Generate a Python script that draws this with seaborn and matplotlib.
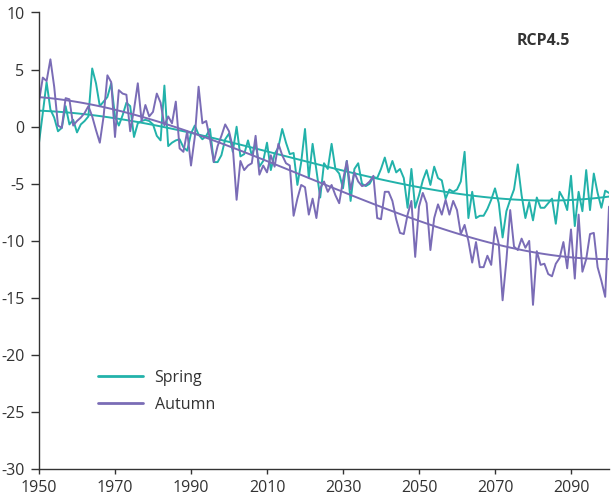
import numpy as np
import pandas as pd
import matplotlib
matplotlib.use("Agg")
import matplotlib.pyplot as plt
import seaborn as sns

years = list(range(1950, 2101))

spring = [
    -1.4, 1.2, 3.9, 1.5, 0.8, -0.4, -0.1, 1.8, 0.2, 0.6,          # 1950s
    -0.5, 0.2, 0.5, 0.9, 5.1, 3.8, 1.8, 2.2, 2.6, 3.8,            # 1960s
    0.9, 0.1, 1.0, 2.1, 1.8, -0.9, 0.3, 0.5, 0.6, 0.5,            # 1970s
    0.2, -0.8, -1.2, 3.6, -1.7, -1.4, -1.2, -1.1, -1.8, -2.1,     # 1980s
    -0.6, 0.1, -0.7, -1.1, -0.8, -0.2, -3.1, -3.1, -2.5, -1.1,    # 1990s
    -0.6, -2.2, 0.0, -2.6, -2.4, -1.2, -2.5, -1.5, -3.5, -3.0,    # 2000s
    -1.4, -3.8, -2.4, -1.8, -0.2, -1.4, -2.4, -2.3, -5.1, -3.1,   # 2010s
    -0.2, -4.5, -1.5, -3.8, -6.2, -3.2, -3.7, -1.5, -3.7, -4.1,   # 2020s
    -5.4, -3.0, -6.5, -3.7, -3.2, -5.0, -5.2, -5.0, -4.4, -4.5,   # 2030s
    -3.7, -2.7, -4.0, -3.0, -4.0, -3.7, -4.5, -7.1, -3.7, -7.1,   # 2040s
    -6.0, -4.7, -3.8, -5.1, -3.5, -4.5, -4.7, -6.3, -5.5, -5.7,   # 2050s
    -5.5, -4.8, -2.2, -8.0, -5.7, -8.0, -7.8, -7.8, -7.2, -6.4,   # 2060s
    -5.4, -6.7, -9.7, -7.4, -6.4, -5.5, -3.3, -6.0, -8.0, -6.6,   # 2070s
    -8.2, -6.2, -7.1, -7.1, -6.7, -6.3, -8.5, -5.7, -6.3, -7.3,   # 2080s
    -4.3, -8.7, -5.7, -7.4, -3.8, -7.3, -4.1, -5.8, -7.1, -5.6,   # 2090s
    -5.8,                                                          # 2100
]

autumn = [
    2.2, 4.3, 4.0, 5.9, 3.5, 0.1, -0.1, 2.5, 2.4, 0.1,            # 1950s
    0.5, 0.8, 1.2, 1.8, 0.9, -0.3, -1.4, 0.9, 4.5, 3.9,           # 1960s
    -0.9, 3.2, 2.9, 2.8, -0.4, 1.5, 3.8, 0.5, 1.9, 0.9,           # 1970s
    1.3, 2.9, 2.1, 0.1, 0.9, 0.3, 2.2, -1.9, -2.2, -0.4,          # 1980s
    -3.4, -0.9, 3.5, 0.3, 0.5, -1.1, -3.1, -1.7, -0.8, 0.2,       # 1990s
    -0.4, -1.8, -6.4, -3.0, -3.8, -3.4, -3.2, -0.8, -4.2, -3.4,   # 2000s
    -4.0, -2.5, -3.5, -1.5, -2.5, -3.2, -3.4, -7.8, -6.3, -5.1,   # 2010s
    -5.3, -7.7, -6.3, -8.0, -5.4, -4.8, -5.7, -5.1, -6.0, -6.7,   # 2020s
    -4.7, -3.0, -5.5, -4.0, -4.8, -5.2, -5.1, -4.8, -4.3, -8.0,   # 2030s
    -8.1, -5.7, -5.7, -6.5, -8.1, -9.3, -9.4, -7.7, -6.5, -11.4,  # 2040s
    -7.0, -5.8, -6.7, -10.8, -8.0, -6.8, -7.7, -6.4, -7.7, -6.5,  # 2050s
    -7.3, -9.4, -8.6, -10.0, -11.9, -10.1, -12.3, -12.3, -11.3, -12.1,  # 2060s
    -8.8, -10.3, -15.2, -11.7, -7.3, -10.5, -10.8, -9.8, -10.6, -10.0,  # 2070s
    -15.6, -10.9, -12.1, -12.0, -12.9, -13.1, -12.0, -11.5, -10.1, -12.4,  # 2080s
    -9.0, -13.3, -7.7, -12.7, -11.6, -9.4, -9.3, -12.3, -13.5, -14.9,  # 2090s
    -7.0,                                                          # 2100
]

series_names = ["Spring", "Autumn"]
x_ticks = list(range(1950, 2091, 20))
y_ticks = list(range(-30, 11, 5))
scenario_label = "RCP4.5"

TEAL = "#22b2aa"
PURPLE = "#7a6cb6"
DARK = "#333333"

sns.set_theme(style="ticks")
plt.rcParams["font.family"] = ["Open Sans", "DejaVu Sans"]
plt.rcParams["axes.unicode_minus"] = False

df = pd.DataFrame({"Year": years, "Spring": spring, "Autumn": autumn})

fig = plt.figure(figsize=(6.11, 4.98), dpi=100)
ax = fig.add_axes([39 / 611, 1 - 469.3 / 498, 570 / 611, (469.3 - 12.5) / 498])

for name, col in zip(series_names, [TEAL, PURPLE]):
    sns.lineplot(data=df, x="Year", y=name, color=col, lw=1.4, ax=ax, label=name)
    sns.regplot(data=df, x="Year", y=name, order=3, scatter=False, ci=None,
                color=col, line_kws={"lw": 1.4}, ax=ax, truncate=True)

ax.set_xlim(1950, 2100)
ax.set_ylim(-30, 10)
ax.set_xticks(x_ticks)
ax.set_yticks(y_ticks)
ax.set_xlabel("")
ax.set_ylabel("")

for s in ["top", "right"]:
    ax.spines[s].set_visible(False)
for s in ["left", "bottom"]:
    ax.spines[s].set_color(DARK)
    ax.spines[s].set_linewidth(1.0)

ax.tick_params(axis="x", length=3.6, width=1, color=DARK, labelsize=11.5,
               pad=4.0, labelcolor=DARK)
ax.tick_params(axis="y", length=5.5, width=1, color=DARK, labelsize=11.5,
               pad=5.0, labelcolor=DARK)

leg = ax.legend(loc="upper left", bbox_to_anchor=(0.092, 0.232), frameon=False,
                handlelength=2.8, handletextpad=0.75, labelspacing=0.7,
                fontsize=11.5, borderaxespad=0)
for t in leg.get_texts():
    t.set_color(DARK)
for h in leg.get_lines():
    h.set_linewidth(2.0)

ax.text((543 - 39) / 570, (469.3 - 41) / 456.8, scenario_label,
        transform=ax.transAxes, ha="center", va="center",
        fontsize=11.5, fontweight="bold", color=DARK)

fig.savefig("out.png", dpi=100)
